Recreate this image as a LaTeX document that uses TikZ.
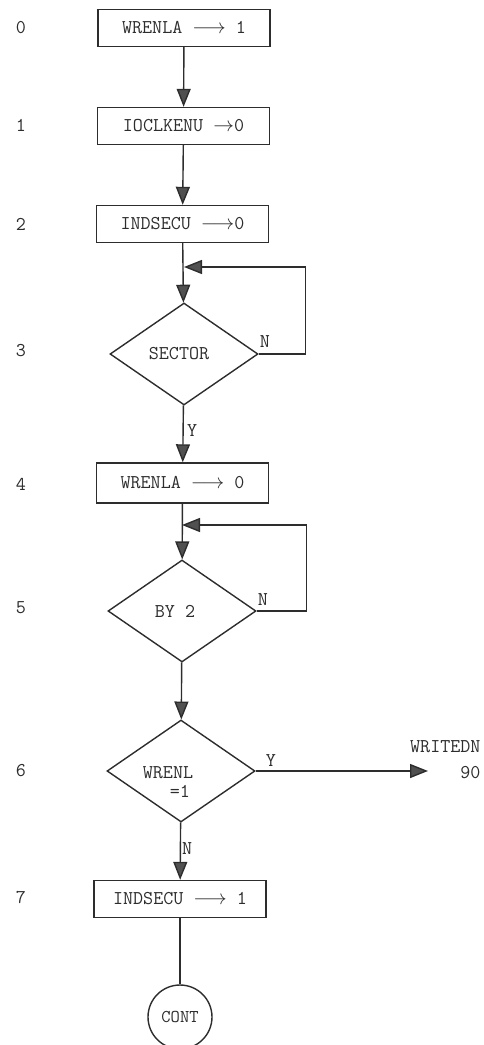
\documentclass[tikz,border=0pt]{standalone}
\usepackage{fontspec}
\usepackage{tikz}
\usetikzlibrary{shapes.geometric, arrows.meta, positioning, calc}
\definecolor{inkDark}{RGB}{45, 45, 45}
\definecolor{tipGray}{RGB}{80, 80, 80}

\begin{document}
\begin{tikzpicture}[x=1pt, y=-1pt, every node/.style={font=\ttfamily\fontsize{19.5}{26}\selectfont, text=inkDark},
    procbox/.style={draw=inkDark, line width=1.4pt, minimum width=172pt, minimum height=37pt, inner sep=0pt},
    decision/.style={draw=inkDark, line width=1.4pt, diamond, minimum width=148pt, minimum height=102pt, inner sep=0pt, align=center},
    flow/.style={draw=inkDark, line width=1.4pt, -{Triangle[length=18pt, width=14pt, fill=tipGray]}},
    rownum/.style={anchor=center}]
    \useasboundingbox (0,0) rectangle (484,1045);
    % Row numbers
    \node[rownum] (r0) at (21, 28) {0};
    \node[rownum] (r1) at (21, 125) {1};
    \node[rownum] (r2) at (21, 224) {2};
    \node[rownum] (r3) at (21, 351) {3};
    \node[rownum] (r4) at (21, 484) {4};
    \node[rownum] (r5) at (21, 608) {5};
    \node[rownum] (r6) at (21, 771) {6};
    \node[rownum] (r7) at (21, 898) {7};
    % Steps
    \node[procbox] (wrenlaon) at (184, 28) {WRENLA $\longrightarrow$ 1};
    \node[procbox] (ioclk) at (183.5, 126) {IOCLKENU $\rightarrow$0};
    \node[procbox] (indsec) at (182.5, 224) {INDSECU $\longrightarrow$0};
    \node[decision] (sector) at (184, 354) {SECTOR\hspace*{10pt}};
    \node[procbox, minimum height=40pt] (wrenlaoff) at (182.5, 483) {WRENLA $\longrightarrow$ 0};
    \node[decision] (bytwo) at (182, 611) {BY 2\hspace*{14pt}};
    \node[decision] (wrenl) at (181, 771) {};
    \node[align=left] (wrenltext) at (168, 782) {WRENL\\[-7pt]\hspace*{27pt}=1};
    \node[procbox] (indsecon) at (180, 899) {INDSECU $\longrightarrow$ 1};
    \node[draw=inkDark, line width=1.4pt, circle, minimum size=64pt, inner sep=0pt, font=\ttfamily\fontsize{18}{20}\selectfont] (cont) at (180, 1017) {CONT};
    \node[align=right, anchor=east] (writedn) at (484, 760) {WRITEDN\\90};
    % Loop points
    \coordinate (secloop) at (184, 267);
    \coordinate (byloop) at (182, 525);
    \coordinate (wrtip) at (428, 771);
    % Arrows
    \draw[flow] (wrenlaon) -- (ioclk);
    \draw[flow] (ioclk) -- (indsec);
    \draw[flow] (indsec) -- (sector);
    \draw[flow] (sector.east) -- ++(47,0) |- (secloop);
    \draw[flow] (sector) -- node[right, pos=0.45] {Y} (wrenlaoff);
    \draw[flow] (wrenlaoff) -- (bytwo);
    \draw[flow] (bytwo.east) -- ++(50,0) |- (byloop);
    \draw[flow] (bytwo) -- (wrenl);
    \draw[flow] (wrenl.east) -- (wrtip);
    \draw[flow] (wrenl) -- node[right, pos=0.45, inner sep=1pt] {N} (indsecon);
    \draw[draw=inkDark, line width=1.4pt] (indsecon) -- (cont);
    % Branch labels
    \node (secn) at (265, 342) {N};
    \node (byn) at (263, 600) {N};
    \node (wry) at (271, 761) {Y};
\end{tikzpicture}
\end{document}
